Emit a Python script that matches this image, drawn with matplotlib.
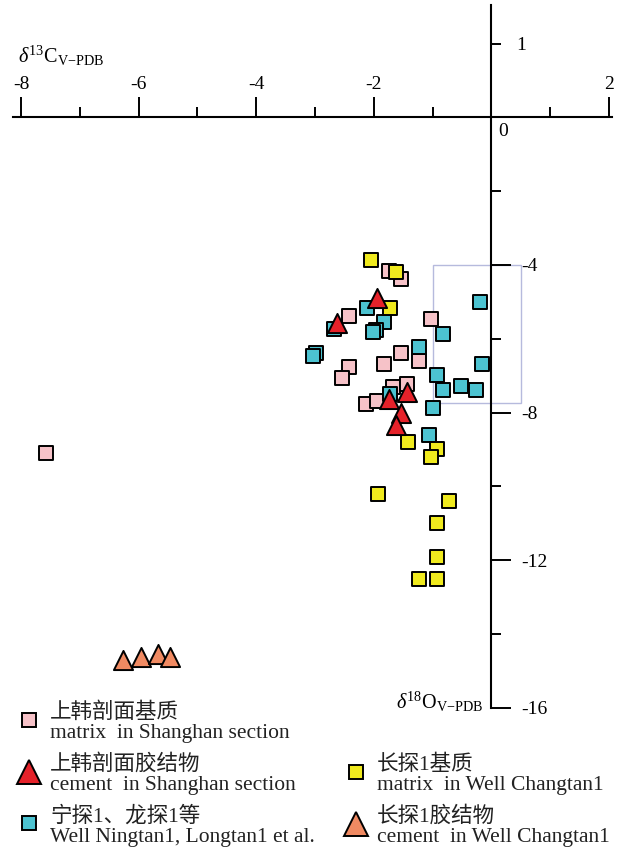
import matplotlib
matplotlib.use('Agg')
import matplotlib.pyplot as plt
from matplotlib.lines import Line2D
from matplotlib.patches import Rectangle
from matplotlib.ticker import FixedLocator, FixedFormatter

# serif for latin text, CJK fallback for the chinese legend lines
plt.rcParams['font.family'] = ['Liberation Serif', 'Noto Sans CJK SC']
plt.rcParams['mathtext.fontset'] = 'custom'
plt.rcParams['mathtext.rm'] = 'Liberation Serif'
plt.rcParams['mathtext.it'] = 'Liberation Serif:italic'

# data (x: d13C, y: d18O)
pink_x = [-1.74, -1.53, -2.43, -1.03, -1.53, -1.23, -1.83, -2.43, -2.54, -2.13, -1.94, -1.68, -1.43, -7.58]
pink_y = [-4.17, -4.38, -5.38, -5.47, -6.38, -6.60, -6.69, -6.76, -7.07, -7.78, -7.69, -7.30, -7.24, -9.09]

cyan_x = [-0.19, -2.12, -1.83, -2.68, -1.96, -2.01, -0.83, -2.99, -3.04, -1.23, -0.16, -0.93, -0.83, -0.52,
          -0.27, -1.72, -0.99, -1.06]
cyan_y = [-5.00, -5.18, -5.54, -5.75, -5.76, -5.81, -5.88, -6.40, -6.47, -6.23, -6.69, -6.98, -7.39, -7.28,
          -7.39, -7.50, -7.87, -8.61]

yellow_x = [-2.04, -1.62, -1.72, -1.42, -0.92, -1.02, -1.93, -0.72, -0.93, -0.93, -1.23, -0.93]
yellow_y = [-3.87, -4.18, -5.18, -8.79, -9.00, -9.20, -10.22, -10.40, -11.00, -11.91, -12.52, -12.52]

red_x = [-1.95, -2.63, -1.44, -1.74, -1.53, -1.62]
red_y = [-4.91, -5.58, -7.44, -7.63, -8.02, -8.34]

orange_x = [-6.27, -5.96, -5.67, -5.47]
orange_y = [-14.72, -14.63, -14.55, -14.63]

x_major = [-8, -6, -4, -2, 2]
x_major_labels = ['-8', '-6', '-4', '-2', '2']
x_minor = [-7, -5, -3, -1, 1]
y_major = [-4, -8, -12, -16]
y_major_labels = ['-4', '-8', '-12', '-16']
y_minor = [2, -2, -6, -10, -14]
y_minor_labels = ['1', '', '', '', '']

labels_left = [
    "上韩剖面基质\nmatrix  in Shanghan section",
    "上韩剖面胶结物\ncement  in Shanghan section",
    "宁探1、龙探1等\nWell Ningtan1, Longtan1 et al.",
]
labels_right = [
    "长探1基质\nmatrix  in Well Changtan1",
    "长探1胶结物\ncement  in Well Changtan1",
]

PINK = '#f6c2c8'
RED = '#e5222a'
CYAN = '#4cc3d1'
YELLOW = '#f0ea1e'
ORANGE = '#f08a62'


def main():
    fig = plt.figure(figsize=(6.27, 8.47), dpi=100)
    ax = fig.add_axes([0, 0, 1, 1])
    ax.set_xlim(-8.357, 2.306)
    ax.set_ylim(-19.775, 3.179)

    # cross shaped axes through the origin
    ax.spines['left'].set_visible(False)
    ax.spines['bottom'].set_visible(False)
    ax.spines['top'].set_position(('data', 0))
    ax.spines['right'].set_position(('data', 0))
    ax.spines['top'].set_bounds(-8.14, 2.05)
    ax.spines['right'].set_bounds(-16, 3.04)
    for s in ['top', 'right']:
        ax.spines[s].set_linewidth(1.5)

    ax.xaxis.set_ticks_position('top')
    ax.yaxis.set_ticks_position('right')
    ax.xaxis.set_major_locator(FixedLocator(x_major))
    ax.xaxis.set_major_formatter(FixedFormatter(x_major_labels))
    ax.xaxis.set_minor_locator(FixedLocator(x_minor))
    ax.yaxis.set_major_locator(FixedLocator(y_major))
    ax.yaxis.set_major_formatter(FixedFormatter(y_major_labels))
    ax.yaxis.set_minor_locator(FixedLocator(y_minor))
    ax.yaxis.set_minor_formatter(FixedFormatter(y_minor_labels))

    ax.tick_params(which='major', direction='out', length=14.4, width=1.4, labelsize=14)
    ax.tick_params(which='minor', direction='out', length=7.2, width=1.4, labelsize=14)
    ax.tick_params(axis='x', which='major', pad=3)
    ax.tick_params(axis='y', which='major', pad=7)
    ax.tick_params(axis='y', which='minor', pad=11, labelright=True)

    ax.annotate('0', xy=(0, 0), xytext=(5, -4), textcoords='offset points',
                ha='left', va='top', fontsize=14)
    ax.annotate(r'$\mathit{\delta}^{13}\mathrm{C}_{\mathrm{V{-}PDB}}$', xy=(-8, 0), xytext=(-2, 39),
                textcoords='offset points', ha='left', va='baseline', fontsize=14.5)
    ax.annotate(r'$\mathit{\delta}^{18}\mathrm{O}_{\mathrm{V{-}PDB}}$', xy=(0, -16), xytext=(-6, -1),
                textcoords='offset points', ha='right', va='baseline', fontsize=14.5)

    ax.add_patch(Rectangle((-1.0, -7.75), 1.5, 3.75, fill=False, ec='#b6badd', lw=1.0, zorder=1))

    kw = dict(edgecolors='black', linewidths=1.4, zorder=3)
    ax.scatter(pink_x, pink_y, marker='s', s=100, c=PINK, **kw)
    ax.scatter(cyan_x, cyan_y, marker='s', s=100, c=CYAN, **kw)
    ax.scatter(yellow_x, yellow_y, marker='s', s=100, c=YELLOW, **kw)
    ax.scatter(red_x, red_y, marker='^', s=190, c=RED, **kw)
    ax.scatter(orange_x, orange_y, marker='^', s=190, c=ORANGE, **kw)

    mk = dict(ls='none', mec='black', mew=1.4)
    h_left = [
        Line2D([], [], marker='s', ms=10, mfc=PINK, **mk),
        Line2D([], [], marker='^', ms=17, mfc=RED, **mk),
        Line2D([], [], marker='s', ms=10, mfc=CYAN, **mk),
    ]
    h_right = [
        Line2D([], [], marker='s', ms=10, mfc=YELLOW, **mk),
        Line2D([], [], marker='^', ms=17, mfc=ORANGE, **mk),
    ]
    leg_kw = dict(loc='upper left', frameon=False, fontsize=15.5, handlelength=0.95,
                  handleheight=1.4, handletextpad=0.5, labelspacing=0.5,
                  borderpad=0, borderaxespad=0)
    leg1 = fig.legend(h_left, labels_left, bbox_to_anchor=(0.0303, 0.1712), **leg_kw)
    leg2 = fig.legend(h_right, labels_right, bbox_to_anchor=(0.5518, 0.1095), **leg_kw)
    for leg in (leg1, leg2):
        for t in leg.get_texts():
            t.set_linespacing(1.1)
            t.set_color('#222222')

    fig.savefig('out.png', dpi=100)


if __name__ == "__main__":
    main()
